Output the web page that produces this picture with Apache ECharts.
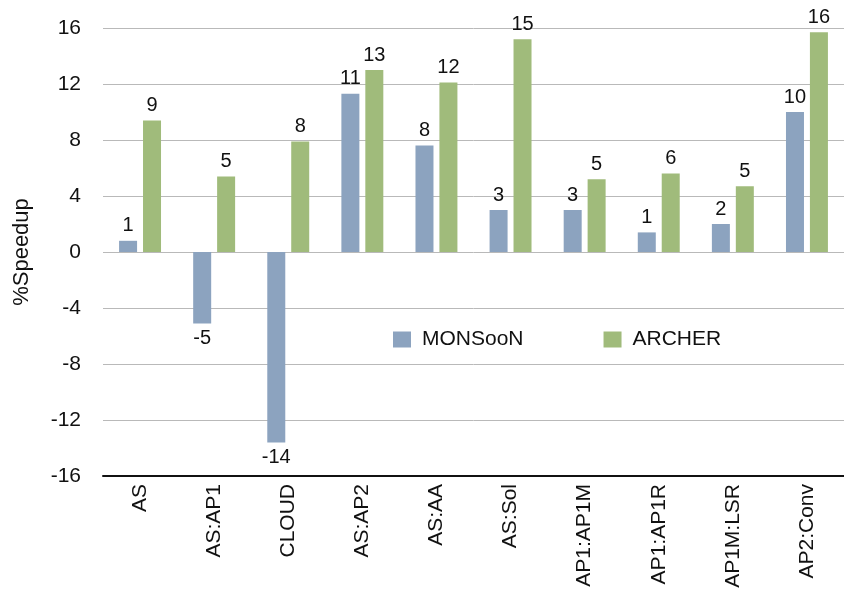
<!DOCTYPE html>
<html>
<head>
<meta charset="utf-8">
<script src="https://cdn.jsdelivr.net/npm/echarts@6/dist/echarts.min.js"></script>
<style>
  html, body { margin: 0; padding: 0; background: #fff; }
  #chart { width: 844px; height: 593px; }
</style>
</head>
<body>
<div id="chart"></div>
<script>
var categories = ['AS', 'AS:AP1', 'CLOUD', 'AS:AP2', 'AS:AA', 'AS:Sol', 'AP1:AP1M', 'AP1:AP1R', 'AP1M:LSR', 'AP2:Conv'];
var monsoon = [0.8, -5.1, -13.6, 11.3, 7.6, 3.0, 3.0, 1.4, 2.0, 10.0];
var archer = [9.4, 5.4, 7.9, 13.0, 12.1, 15.2, 5.2, 5.6, 4.7, 15.7];
var yTicks = [-16, -12, -8, -4, 0, 4, 8, 12, 16];

var font = '"Liberation Sans", Arial, Helvetica, sans-serif';

// 负值的标签放在柱子下方
function toItems(arr) {
    return arr.map(function (v) {
        return {
            value: v,
            label: { position: v < 0 ? 'bottom' : 'top' }
        };
    });
}

var chart = echarts.init(document.getElementById('chart'));
chart.setOption({
    animation: false,
    textStyle: { fontFamily: font },
    grid: {
        left: 103,
        right: -5,
        top: 28,
        bottom: 117,
        containLabel: false
    },
    legend: {
        data: ['MONSooN', 'ARCHER'],
        left: 388,
        top: 324,
        itemWidth: 18,
        itemHeight: 16,
        itemGap: 80,
        icon: 'rect',
        textStyle: { fontSize: 21, color: '#111', fontFamily: font, padding: [0, 0, 0, 6] }
    },
    xAxis: {
        type: 'category',
        data: categories,
        axisLine: { show: true, onZero: false, lineStyle: { color: '#111', width: 2 } },
        axisTick: { show: false },
        axisLabel: {
            rotate: 90,
            fontSize: 21,
            color: '#111',
            margin: 8,
            fontFamily: font
        }
    },
    yAxis: {
        type: 'value',
        min: yTicks[0],
        max: yTicks[yTicks.length - 1],
        interval: 4,
        name: '%Speedup',
        nameLocation: 'middle',
        nameGap: 70,
        nameTextStyle: { fontSize: 22, color: '#111', fontFamily: font },
        axisLine: { show: false },
        axisTick: { show: false },
        axisLabel: { fontSize: 21, color: '#111', margin: 22, fontFamily: font },
        splitLine: { lineStyle: { color: '#b9b9b9', width: 1 } }
    },
    series: [{
        name: 'MONSooN',
        type: 'bar',
        barWidth: 18,
        barGap: '33%',
        itemStyle: { color: '#8ca3bf' },
        label: {
            show: true,
            fontSize: 20,
            color: '#111',
            distance: 5,
            formatter: function (p) { return Math.round(p.value); }
        },
        data: toItems(monsoon)
    }, {
        name: 'ARCHER',
        type: 'bar',
        barWidth: 18,
        itemStyle: { color: '#a0bb7b' },
        label: {
            show: true,
            fontSize: 20,
            color: '#111',
            distance: 5,
            formatter: function (p) { return Math.round(p.value); }
        },
        data: toItems(archer)
    }]
});
</script>
</body>
</html>
